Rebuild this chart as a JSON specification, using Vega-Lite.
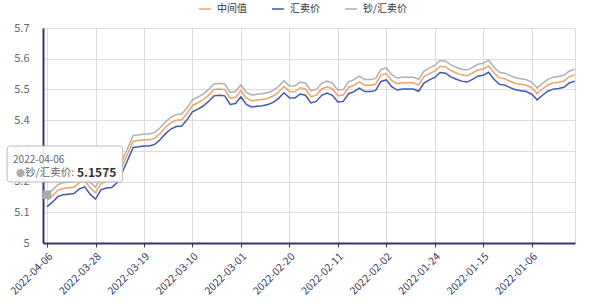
{
"$schema": "https://vega.github.io/schema/vega-lite/v6.json",
"width": 532, "height": 215,
"autosize": {"type": "none"},
"padding": {"left": 43, "top": 28, "right": 25, "bottom": 64},
"background": "white",
"config": {"font": "Noto Sans CJK SC", "view": {"stroke": "#dddddd"}},
"data": {"values": [
{"date":"2022-04-06","series":"中间值","value":5.139},{"date":"2022-04-06","series":"汇卖价","value":5.1185},{"date":"2022-04-06","series":"钞/汇卖价","value":5.1575},
{"date":"2022-04-05","series":"中间值","value":5.1535},{"date":"2022-04-05","series":"汇卖价","value":5.133},{"date":"2022-04-05","series":"钞/汇卖价","value":5.172},
{"date":"2022-04-04","series":"中间值","value":5.1715},{"date":"2022-04-04","series":"汇卖价","value":5.151},{"date":"2022-04-04","series":"钞/汇卖价","value":5.19},
{"date":"2022-04-03","series":"中间值","value":5.1775},{"date":"2022-04-03","series":"汇卖价","value":5.157},{"date":"2022-04-03","series":"钞/汇卖价","value":5.196},
{"date":"2022-04-02","series":"中间值","value":5.1795},{"date":"2022-04-02","series":"汇卖价","value":5.159},{"date":"2022-04-02","series":"钞/汇卖价","value":5.198},
{"date":"2022-04-01","series":"中间值","value":5.1815},{"date":"2022-04-01","series":"汇卖价","value":5.161},{"date":"2022-04-01","series":"钞/汇卖价","value":5.2},
{"date":"2022-03-31","series":"中间值","value":5.1965},{"date":"2022-03-31","series":"汇卖价","value":5.176},{"date":"2022-03-31","series":"钞/汇卖价","value":5.215},
{"date":"2022-03-30","series":"中间值","value":5.2035},{"date":"2022-03-30","series":"汇卖价","value":5.183},{"date":"2022-03-30","series":"钞/汇卖价","value":5.222},
{"date":"2022-03-29","series":"中间值","value":5.1795},{"date":"2022-03-29","series":"汇卖价","value":5.159},{"date":"2022-03-29","series":"钞/汇卖价","value":5.198},
{"date":"2022-03-28","series":"中间值","value":5.1635},{"date":"2022-03-28","series":"汇卖价","value":5.143},{"date":"2022-03-28","series":"钞/汇卖价","value":5.182},
{"date":"2022-03-27","series":"中间值","value":5.1935},{"date":"2022-03-27","series":"汇卖价","value":5.173},{"date":"2022-03-27","series":"钞/汇卖价","value":5.212},
{"date":"2022-03-26","series":"中间值","value":5.1995},{"date":"2022-03-26","series":"汇卖价","value":5.179},{"date":"2022-03-26","series":"钞/汇卖价","value":5.218},
{"date":"2022-03-25","series":"中间值","value":5.2015},{"date":"2022-03-25","series":"汇卖价","value":5.181},{"date":"2022-03-25","series":"钞/汇卖价","value":5.22},
{"date":"2022-03-24","series":"中间值","value":5.2165},{"date":"2022-03-24","series":"汇卖价","value":5.196},{"date":"2022-03-24","series":"钞/汇卖价","value":5.235},
{"date":"2022-03-23","series":"中间值","value":5.2515},{"date":"2022-03-23","series":"汇卖价","value":5.231},{"date":"2022-03-23","series":"钞/汇卖价","value":5.27},
{"date":"2022-03-22","series":"中间值","value":5.2915},{"date":"2022-03-22","series":"汇卖价","value":5.271},{"date":"2022-03-22","series":"钞/汇卖价","value":5.31},
{"date":"2022-03-21","series":"中间值","value":5.3315},{"date":"2022-03-21","series":"汇卖价","value":5.311},{"date":"2022-03-21","series":"钞/汇卖价","value":5.35},
{"date":"2022-03-20","series":"中间值","value":5.3335},{"date":"2022-03-20","series":"汇卖价","value":5.313},{"date":"2022-03-20","series":"钞/汇卖价","value":5.352},
{"date":"2022-03-19","series":"中间值","value":5.3365},{"date":"2022-03-19","series":"汇卖价","value":5.316},{"date":"2022-03-19","series":"钞/汇卖价","value":5.355},
{"date":"2022-03-18","series":"中间值","value":5.3365},{"date":"2022-03-18","series":"汇卖价","value":5.316},{"date":"2022-03-18","series":"钞/汇卖价","value":5.355},
{"date":"2022-03-17","series":"中间值","value":5.3415},{"date":"2022-03-17","series":"汇卖价","value":5.321},{"date":"2022-03-17","series":"钞/汇卖价","value":5.36},
{"date":"2022-03-16","series":"中间值","value":5.3565},{"date":"2022-03-16","series":"汇卖价","value":5.336},{"date":"2022-03-16","series":"钞/汇卖价","value":5.375},
{"date":"2022-03-15","series":"中间值","value":5.3765},{"date":"2022-03-15","series":"汇卖价","value":5.356},{"date":"2022-03-15","series":"钞/汇卖价","value":5.395},
{"date":"2022-03-14","series":"中间值","value":5.3915},{"date":"2022-03-14","series":"汇卖价","value":5.371},{"date":"2022-03-14","series":"钞/汇卖价","value":5.41},
{"date":"2022-03-13","series":"中间值","value":5.3995},{"date":"2022-03-13","series":"汇卖价","value":5.379},{"date":"2022-03-13","series":"钞/汇卖价","value":5.418},
{"date":"2022-03-12","series":"中间值","value":5.4015},{"date":"2022-03-12","series":"汇卖价","value":5.381},{"date":"2022-03-12","series":"钞/汇卖价","value":5.42},
{"date":"2022-03-11","series":"中间值","value":5.4215},{"date":"2022-03-11","series":"汇卖价","value":5.401},{"date":"2022-03-11","series":"钞/汇卖价","value":5.44},
{"date":"2022-03-10","series":"中间值","value":5.4475},{"date":"2022-03-10","series":"汇卖价","value":5.427},{"date":"2022-03-10","series":"钞/汇卖价","value":5.466},
{"date":"2022-03-09","series":"中间值","value":5.4565},{"date":"2022-03-09","series":"汇卖价","value":5.436},{"date":"2022-03-09","series":"钞/汇卖价","value":5.475},
{"date":"2022-03-08","series":"中间值","value":5.4665},{"date":"2022-03-08","series":"汇卖价","value":5.446},{"date":"2022-03-08","series":"钞/汇卖价","value":5.485},
{"date":"2022-03-07","series":"中间值","value":5.4815},{"date":"2022-03-07","series":"汇卖价","value":5.461},{"date":"2022-03-07","series":"钞/汇卖价","value":5.5},
{"date":"2022-03-06","series":"中间值","value":5.4995},{"date":"2022-03-06","series":"汇卖价","value":5.479},{"date":"2022-03-06","series":"钞/汇卖价","value":5.518},
{"date":"2022-03-05","series":"中间值","value":5.5015},{"date":"2022-03-05","series":"汇卖价","value":5.481},{"date":"2022-03-05","series":"钞/汇卖价","value":5.52},
{"date":"2022-03-04","series":"中间值","value":5.4995},{"date":"2022-03-04","series":"汇卖价","value":5.479},{"date":"2022-03-04","series":"钞/汇卖价","value":5.518},
{"date":"2022-03-03","series":"中间值","value":5.4715},{"date":"2022-03-03","series":"汇卖价","value":5.451},{"date":"2022-03-03","series":"钞/汇卖价","value":5.49},
{"date":"2022-03-02","series":"中间值","value":5.4745},{"date":"2022-03-02","series":"汇卖价","value":5.454},{"date":"2022-03-02","series":"钞/汇卖价","value":5.493},
{"date":"2022-03-01","series":"中间值","value":5.4965},{"date":"2022-03-01","series":"汇卖价","value":5.476},{"date":"2022-03-01","series":"钞/汇卖价","value":5.515},
{"date":"2022-02-28","series":"中间值","value":5.4715},{"date":"2022-02-28","series":"汇卖价","value":5.451},{"date":"2022-02-28","series":"钞/汇卖价","value":5.49},
{"date":"2022-02-27","series":"中间值","value":5.4635},{"date":"2022-02-27","series":"汇卖价","value":5.443},{"date":"2022-02-27","series":"钞/汇卖价","value":5.482},
{"date":"2022-02-26","series":"中间值","value":5.4655},{"date":"2022-02-26","series":"汇卖价","value":5.445},{"date":"2022-02-26","series":"钞/汇卖价","value":5.484},
{"date":"2022-02-25","series":"中间值","value":5.4675},{"date":"2022-02-25","series":"汇卖价","value":5.447},{"date":"2022-02-25","series":"钞/汇卖价","value":5.486},
{"date":"2022-02-24","series":"中间值","value":5.4715},{"date":"2022-02-24","series":"汇卖价","value":5.451},{"date":"2022-02-24","series":"钞/汇卖价","value":5.49},
{"date":"2022-02-23","series":"中间值","value":5.4785},{"date":"2022-02-23","series":"汇卖价","value":5.458},{"date":"2022-02-23","series":"钞/汇卖价","value":5.497},
{"date":"2022-02-22","series":"中间值","value":5.4915},{"date":"2022-02-22","series":"汇卖价","value":5.471},{"date":"2022-02-22","series":"钞/汇卖价","value":5.51},
{"date":"2022-02-21","series":"中间值","value":5.5095},{"date":"2022-02-21","series":"汇卖价","value":5.489},{"date":"2022-02-21","series":"钞/汇卖价","value":5.528},
{"date":"2022-02-20","series":"中间值","value":5.4935},{"date":"2022-02-20","series":"汇卖价","value":5.473},{"date":"2022-02-20","series":"钞/汇卖价","value":5.512},
{"date":"2022-02-19","series":"中间值","value":5.4925},{"date":"2022-02-19","series":"汇卖价","value":5.472},{"date":"2022-02-19","series":"钞/汇卖价","value":5.511},
{"date":"2022-02-18","series":"中间值","value":5.5055},{"date":"2022-02-18","series":"汇卖价","value":5.485},{"date":"2022-02-18","series":"钞/汇卖价","value":5.524},
{"date":"2022-02-17","series":"中间值","value":5.5015},{"date":"2022-02-17","series":"汇卖价","value":5.481},{"date":"2022-02-17","series":"钞/汇卖价","value":5.52},
{"date":"2022-02-16","series":"中间值","value":5.4765},{"date":"2022-02-16","series":"汇卖价","value":5.456},{"date":"2022-02-16","series":"钞/汇卖价","value":5.495},
{"date":"2022-02-15","series":"中间值","value":5.4815},{"date":"2022-02-15","series":"汇卖价","value":5.461},{"date":"2022-02-15","series":"钞/汇卖价","value":5.5},
{"date":"2022-02-14","series":"中间值","value":5.5015},{"date":"2022-02-14","series":"汇卖价","value":5.481},{"date":"2022-02-14","series":"钞/汇卖价","value":5.52},
{"date":"2022-02-13","series":"中间值","value":5.5085},{"date":"2022-02-13","series":"汇卖价","value":5.488},{"date":"2022-02-13","series":"钞/汇卖价","value":5.527},
{"date":"2022-02-12","series":"中间值","value":5.5015},{"date":"2022-02-12","series":"汇卖价","value":5.481},{"date":"2022-02-12","series":"钞/汇卖价","value":5.52},
{"date":"2022-02-11","series":"中间值","value":5.4795},{"date":"2022-02-11","series":"汇卖价","value":5.459},{"date":"2022-02-11","series":"钞/汇卖价","value":5.498},
{"date":"2022-02-10","series":"中间值","value":5.4815},{"date":"2022-02-10","series":"汇卖价","value":5.461},{"date":"2022-02-10","series":"钞/汇卖价","value":5.5},
{"date":"2022-02-09","series":"中间值","value":5.5065},{"date":"2022-02-09","series":"汇卖价","value":5.486},{"date":"2022-02-09","series":"钞/汇卖价","value":5.525},
{"date":"2022-02-08","series":"中间值","value":5.5135},{"date":"2022-02-08","series":"汇卖价","value":5.493},{"date":"2022-02-08","series":"钞/汇卖价","value":5.532},
{"date":"2022-02-07","series":"中间值","value":5.5245},{"date":"2022-02-07","series":"汇卖价","value":5.504},{"date":"2022-02-07","series":"钞/汇卖价","value":5.543},
{"date":"2022-02-06","series":"中间值","value":5.5135},{"date":"2022-02-06","series":"汇卖价","value":5.493},{"date":"2022-02-06","series":"钞/汇卖价","value":5.532},
{"date":"2022-02-05","series":"中间值","value":5.5135},{"date":"2022-02-05","series":"汇卖价","value":5.493},{"date":"2022-02-05","series":"钞/汇卖价","value":5.532},
{"date":"2022-02-04","series":"中间值","value":5.5165},{"date":"2022-02-04","series":"汇卖价","value":5.496},{"date":"2022-02-04","series":"钞/汇卖价","value":5.535},
{"date":"2022-02-03","series":"中间值","value":5.5465},{"date":"2022-02-03","series":"汇卖价","value":5.526},{"date":"2022-02-03","series":"钞/汇卖价","value":5.565},
{"date":"2022-02-02","series":"中间值","value":5.5515},{"date":"2022-02-02","series":"汇卖价","value":5.531},{"date":"2022-02-02","series":"钞/汇卖价","value":5.57},
{"date":"2022-02-01","series":"中间值","value":5.5295},{"date":"2022-02-01","series":"汇卖价","value":5.509},{"date":"2022-02-01","series":"钞/汇卖价","value":5.548},
{"date":"2022-01-31","series":"中间值","value":5.5185},{"date":"2022-01-31","series":"汇卖价","value":5.498},{"date":"2022-01-31","series":"钞/汇卖价","value":5.537},
{"date":"2022-01-30","series":"中间值","value":5.5215},{"date":"2022-01-30","series":"汇卖价","value":5.501},{"date":"2022-01-30","series":"钞/汇卖价","value":5.54},
{"date":"2022-01-29","series":"中间值","value":5.5215},{"date":"2022-01-29","series":"汇卖价","value":5.501},{"date":"2022-01-29","series":"钞/汇卖价","value":5.54},
{"date":"2022-01-28","series":"中间值","value":5.5215},{"date":"2022-01-28","series":"汇卖价","value":5.501},{"date":"2022-01-28","series":"钞/汇卖价","value":5.54},
{"date":"2022-01-27","series":"中间值","value":5.5145},{"date":"2022-01-27","series":"汇卖价","value":5.494},{"date":"2022-01-27","series":"钞/汇卖价","value":5.533},
{"date":"2022-01-26","series":"中间值","value":5.5415},{"date":"2022-01-26","series":"汇卖价","value":5.521},{"date":"2022-01-26","series":"钞/汇卖价","value":5.56},
{"date":"2022-01-25","series":"中间值","value":5.5515},{"date":"2022-01-25","series":"汇卖价","value":5.531},{"date":"2022-01-25","series":"钞/汇卖价","value":5.57},
{"date":"2022-01-24","series":"中间值","value":5.5595},{"date":"2022-01-24","series":"汇卖价","value":5.539},{"date":"2022-01-24","series":"钞/汇卖价","value":5.578},
{"date":"2022-01-23","series":"中间值","value":5.5755},{"date":"2022-01-23","series":"汇卖价","value":5.555},{"date":"2022-01-23","series":"钞/汇卖价","value":5.594},
{"date":"2022-01-22","series":"中间值","value":5.5735},{"date":"2022-01-22","series":"汇卖价","value":5.553},{"date":"2022-01-22","series":"钞/汇卖价","value":5.592},
{"date":"2022-01-21","series":"中间值","value":5.5615},{"date":"2022-01-21","series":"汇卖价","value":5.541},{"date":"2022-01-21","series":"钞/汇卖价","value":5.58},
{"date":"2022-01-20","series":"中间值","value":5.5535},{"date":"2022-01-20","series":"汇卖价","value":5.533},{"date":"2022-01-20","series":"钞/汇卖价","value":5.572},
{"date":"2022-01-19","series":"中间值","value":5.5475},{"date":"2022-01-19","series":"汇卖价","value":5.527},{"date":"2022-01-19","series":"钞/汇卖价","value":5.566},
{"date":"2022-01-18","series":"中间值","value":5.5445},{"date":"2022-01-18","series":"汇卖价","value":5.524},{"date":"2022-01-18","series":"钞/汇卖价","value":5.563},
{"date":"2022-01-17","series":"中间值","value":5.5535},{"date":"2022-01-17","series":"汇卖价","value":5.533},{"date":"2022-01-17","series":"钞/汇卖价","value":5.572},
{"date":"2022-01-16","series":"中间值","value":5.5635},{"date":"2022-01-16","series":"汇卖价","value":5.543},{"date":"2022-01-16","series":"钞/汇卖价","value":5.582},
{"date":"2022-01-15","series":"中间值","value":5.5665},{"date":"2022-01-15","series":"汇卖价","value":5.546},{"date":"2022-01-15","series":"钞/汇卖价","value":5.585},
{"date":"2022-01-14","series":"中间值","value":5.5765},{"date":"2022-01-14","series":"汇卖价","value":5.556},{"date":"2022-01-14","series":"钞/汇卖价","value":5.595},
{"date":"2022-01-13","series":"中间值","value":5.5535},{"date":"2022-01-13","series":"汇卖价","value":5.533},{"date":"2022-01-13","series":"钞/汇卖价","value":5.572},
{"date":"2022-01-12","series":"中间值","value":5.5375},{"date":"2022-01-12","series":"汇卖价","value":5.517},{"date":"2022-01-12","series":"钞/汇卖价","value":5.556},
{"date":"2022-01-11","series":"中间值","value":5.5345},{"date":"2022-01-11","series":"汇卖价","value":5.514},{"date":"2022-01-11","series":"钞/汇卖价","value":5.553},
{"date":"2022-01-10","series":"中间值","value":5.5265},{"date":"2022-01-10","series":"汇卖价","value":5.506},{"date":"2022-01-10","series":"钞/汇卖价","value":5.545},
{"date":"2022-01-09","series":"中间值","value":5.5195},{"date":"2022-01-09","series":"汇卖价","value":5.499},{"date":"2022-01-09","series":"钞/汇卖价","value":5.538},
{"date":"2022-01-08","series":"中间值","value":5.5165},{"date":"2022-01-08","series":"汇卖价","value":5.496},{"date":"2022-01-08","series":"钞/汇卖价","value":5.535},
{"date":"2022-01-07","series":"中间值","value":5.5135},{"date":"2022-01-07","series":"汇卖价","value":5.493},{"date":"2022-01-07","series":"钞/汇卖价","value":5.532},
{"date":"2022-01-06","series":"中间值","value":5.5055},{"date":"2022-01-06","series":"汇卖价","value":5.485},{"date":"2022-01-06","series":"钞/汇卖价","value":5.524},
{"date":"2022-01-05","series":"中间值","value":5.4865},{"date":"2022-01-05","series":"汇卖价","value":5.466},{"date":"2022-01-05","series":"钞/汇卖价","value":5.505},
{"date":"2022-01-04","series":"中间值","value":5.5015},{"date":"2022-01-04","series":"汇卖价","value":5.481},{"date":"2022-01-04","series":"钞/汇卖价","value":5.52},
{"date":"2022-01-03","series":"中间值","value":5.5145},{"date":"2022-01-03","series":"汇卖价","value":5.494},{"date":"2022-01-03","series":"钞/汇卖价","value":5.533},
{"date":"2022-01-02","series":"中间值","value":5.5215},{"date":"2022-01-02","series":"汇卖价","value":5.501},{"date":"2022-01-02","series":"钞/汇卖价","value":5.54},
{"date":"2022-01-01","series":"中间值","value":5.5235},{"date":"2022-01-01","series":"汇卖价","value":5.503},{"date":"2022-01-01","series":"钞/汇卖价","value":5.542},
{"date":"2021-12-31","series":"中间值","value":5.5275},{"date":"2021-12-31","series":"汇卖价","value":5.507},{"date":"2021-12-31","series":"钞/汇卖价","value":5.546},
{"date":"2021-12-30","series":"中间值","value":5.5415},{"date":"2021-12-30","series":"汇卖价","value":5.521},{"date":"2021-12-30","series":"钞/汇卖价","value":5.56},
{"date":"2021-12-29","series":"中间值","value":5.5475},{"date":"2021-12-29","series":"汇卖价","value":5.527},{"date":"2021-12-29","series":"钞/汇卖价","value":5.566}
]},
"encoding": {
  "x": {"field": "date", "type": "temporal",
    "scale": {"type": "utc", "reverse": true, "domain": [{"year": 2021, "month": 12, "date": 28, "hours": 23, "utc": true}, {"year": 2022, "month": 4, "date": 6, "hours": 18, "utc": true}]},
    "axis": {"title": null, "format": "%Y-%m-%d", "labelAngle": -45, "labelAlign": "right", "labelBaseline": "top", "labelFontSize": 10.5, "labelColor": "#3a3a5c", "labelPadding": 4, "labelOverlap": false, "labelFlush": false,
      "values": [{"year": 2022, "month": 4, "date": 6, "utc": true}, {"year": 2022, "month": 3, "date": 28, "utc": true}, {"year": 2022, "month": 3, "date": 19, "utc": true}, {"year": 2022, "month": 3, "date": 10, "utc": true}, {"year": 2022, "month": 3, "date": 1, "utc": true}, {"year": 2022, "month": 2, "date": 20, "utc": true}, {"year": 2022, "month": 2, "date": 11, "utc": true}, {"year": 2022, "month": 2, "date": 2, "utc": true}, {"year": 2022, "month": 1, "date": 24, "utc": true}, {"year": 2022, "month": 1, "date": 15, "utc": true}, {"year": 2022, "month": 1, "date": 6, "utc": true}],
      "grid": true, "gridColor": "#dddddd", "domainColor": "#35356a", "domainWidth": 2, "tickColor": "#35356a", "tickSize": 4}},
  "y": {"field": "value", "type": "quantitative",
    "scale": {"domain": [5, 5.7], "nice": false, "zero": false},
    "axis": {"title": null, "values": [5, 5.1, 5.2, 5.3, 5.4, 5.5, 5.6, 5.7], "format": "~g", "labelFontSize": 11, "labelColor": "#666666", "labelPadding": 14, "ticks": false, "grid": true, "gridColor": "#dddddd", "domainColor": "#35356a", "domainWidth": 2}}
},
"layer": [
  {"mark": {"type": "line", "strokeWidth": 1.5},
   "encoding": {"color": {"field": "series", "type": "nominal",
     "scale": {"domain": ["中间值", "汇卖价", "钞/汇卖价"], "range": ["#f3a168", "#4258ad", "#b0b0b0"]},
     "legend": {"title": null, "orient": "none", "direction": "horizontal", "legendX": 155, "legendY": -26, "symbolType": "stroke", "symbolSize": 144, "symbolStrokeWidth": 1.5, "labelFontSize": 10, "labelColor": "#333333", "labelOffset": 5, "columnPadding": 22}}}},
  {"transform": [{"filter": "datum.series === '钞/汇卖价' && datum.value === 5.1575"}],
   "layer": [
     {"mark": {"type": "point", "shape": "square", "size": 70, "filled": true, "color": "#aaaaaa", "opacity": 1}},
     {"mark": {"type": "rect", "fill": "#ffffff", "fillOpacity": 0.9, "stroke": "#bbbbbb", "strokeWidth": 1, "cornerRadius": 3, "clip": false},
      "encoding": {
        "x": {"datum": {"year": 2022, "month": 4, "date": 13, "hours": 10, "utc": true}, "type": "temporal"},
        "x2": {"datum": {"year": 2022, "month": 3, "date": 22, "hours": 23, "utc": true}},
        "y": {"datum": 5.3158, "type": "quantitative"},
        "y2": {"datum": 5.1986}}},
     {"mark": {"type": "text", "align": "left", "baseline": "middle", "dx": -34, "dy": -34.6, "fontSize": 10, "color": "#666666"},
      "encoding": {"text": {"field": "date", "type": "temporal", "timeUnit": "utcyearmonthdate", "format": "%Y-%m-%d"}}},
     {"mark": {"type": "text", "align": "left", "baseline": "middle", "dx": -31, "dy": -21.5, "fontSize": 9, "color": "#aaaaaa", "text": "●"}},
     {"mark": {"type": "text", "align": "left", "baseline": "middle", "dx": -22, "dy": -21.5, "fontSize": 10.5, "color": "#666666", "text": "钞/汇卖价:"}},
     {"mark": {"type": "text", "align": "left", "baseline": "middle", "dx": 30, "dy": -21.5, "fontSize": 12, "fontWeight": "bold", "color": "#333333"},
      "encoding": {"text": {"field": "value", "type": "quantitative", "format": ".4f"}}}
   ]}
]
}
